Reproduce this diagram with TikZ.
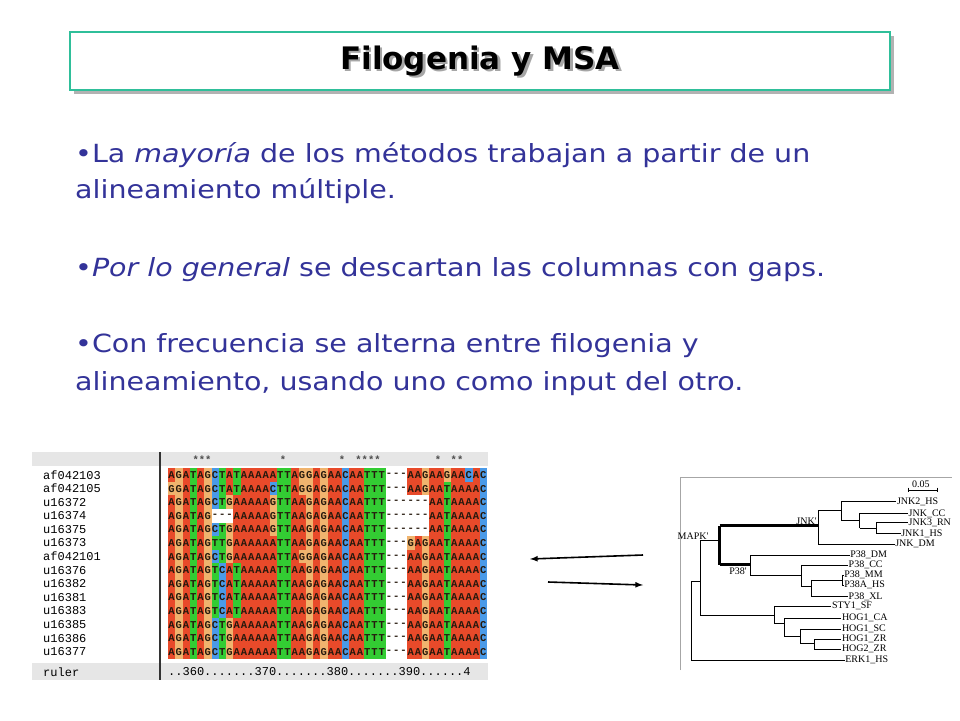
\documentclass[tikz,border=0pt]{standalone}
\usepackage{fontspec}
\setmainfont{DejaVu Sans}
\newfontfamily\bodyfont[FakeStretch=1.14]{DejaVu Sans}
\newfontfamily\alnfont{Liberation Mono}
\newfontfamily\treefont{Liberation Serif}
\definecolor{slideblue}{HTML}{333399}
\definecolor{titleteal}{HTML}{2FBF9A}
\definecolor{alnA}{HTML}{E84A2A}
\definecolor{alnG}{HTML}{F0B46E}
\definecolor{alnT}{HTML}{33CC33}
\definecolor{alnC}{HTML}{4A9AE8}
\definecolor{panelgray}{HTML}{E6E6E6}
\tikzset{
  bodytext/.style={anchor=west,text=slideblue,font=\bodyfont\fontsize{25}{25}\selectfont,inner sep=0pt},
  seqname/.style={anchor=west,font=\alnfont\fontsize{12}{12}\selectfont,inner sep=0pt},
  base/.style={font=\alnfont\bfseries\fontsize{10.5}{10.5}\selectfont,inner sep=0pt,text=black!80!brown},
  leaf/.style={anchor=west,font=\treefont\fontsize{10}{10}\selectfont,inner sep=0.5pt},
  branch/.style={line width=0.7pt},
  thick branch/.style={line width=3pt}
}
\makeatletter
\newcount\alncol
\def\alndash{-}
\newcommand\alnrow[3]{% name, y, sequence
  \node[seqname] (n#1) at (43,#2) {#1};
  \alncol=0
  \@tfor\alnch:=#3\do{%
    \ifx\alnch\alndash\def\alnfill{white}\else\edef\alnfill{aln\alnch}\fi
    \pgfmathsetmacro\alnx{168+7.25*\alncol}%
    \fill[\alnfill] (\alnx,#2-6.8) rectangle ++(7.25,13.6);
    \node[base] at (\alnx+3.6,#2) {\alnch};
    \advance\alncol by 1 }}
\makeatother
\begin{document}
\begin{tikzpicture}[x=1pt,y=-1pt]
  \useasboundingbox[fill=white] (0,0) rectangle (960,720);
  % title
  \fill[gray!60] (74,36) rectangle (894,94);
  \draw[titleteal,line width=2.5pt,fill=white] (70,32) rectangle (890,90);
  \node[font=\bfseries\fontsize{31}{31}\selectfont,text=gray!70] at (482.5,63.5) {Filogenia y MSA};
  \node[font=\bfseries\fontsize{31}{31}\selectfont] (title) at (480,61) {Filogenia y MSA};
  % bullets
  \node[bodytext] (b1) at (75,155) {•La \textit{mayoría} de los métodos trabajan a partir de un};
  \node[bodytext] (b1b) at (75,191) {alineamiento múltiple.};
  \node[bodytext] (b2) at (75,270) {•\textit{Por lo general} se descartan las columnas con gaps.};
  \node[bodytext] (b3) at (75,346) {•Con frecuencia se alterna entre filogenia y};
  \node[bodytext] (b3b) at (75,384) {alineamiento, usando uno como input del otro.};
  % alignment panel
  \fill[panelgray] (32,452) rectangle (488,466);
  \fill[panelgray] (32,663) rectangle (488,680);
  \foreach \sx/\st in {202/***,283/*,342/*,368/****,438/*,457/**}
    \node[base,text=black!70] at (\sx,460) {\st};
  \alnrow{af042103}{475}{AGATAGCTATAAAAATTAGGAGAACAATTT---AAGAAGAACAC}
  \alnrow{af042105}{488.6}{GGATAGCTATAAAACTTAGGAGAACAATTT---AAGAATAAAAC}
  \alnrow{u16372}{502.2}{AGATAGCTGAAAAAGTTAAGAGAACAATTT------AATAAAAC}
  \alnrow{u16374}{515.8}{AGATAG---AAAAAGTTAAGAGAACAATTT------AATAAAAC}
  \alnrow{u16375}{529.4}{AGATAGCTGAAAAAGTTAAGAGAACAATTT------AATAAAAC}
  \alnrow{u16373}{543}{AGATAGTTGAAAAAATTAAGAGAACAATTT---GAGAATAAAAC}
  \alnrow{af042101}{556.6}{AGATAGCTGAAAAAATTAGGAGAACAATTT---AAGAATAAAAC}
  \alnrow{u16376}{570.2}{AGATAGTCATAAAAATTAAGAGAACAATTT---AAGAATAAAAC}
  \alnrow{u16382}{583.8}{AGATAGTCATAAAAATTAAGAGAACAATTT---AAGAATAAAAC}
  \alnrow{u16381}{597.4}{AGATAGTCATAAAAATTAAGAGAACAATTT---AAGAATAAAAC}
  \alnrow{u16383}{611}{AGATAGTCATAAAAATTAAGAGAACAATTT---AAGAATAAAAC}
  \alnrow{u16385}{624.6}{AGATAGCTGAAAAAATTAAGAGAACAATTT---AAGAATAAAAC}
  \alnrow{u16386}{638.2}{AGATAGCTGAAAAAATTAAGAGAACAATTT---AAGAATAAAAC}
  \alnrow{u16377}{651.8}{AGATAGCTGAAAAAATTAAGAGAACAATTT---AAGAATAAAAC}
  \node[seqname] (ruler) at (43,672) {ruler};
  \node[seqname] (rulerscale) at (168,672) {..360.......370.......380.......390......4};
  \draw[line width=1.2pt,black!80] (160,452) -- (160,680);
  % arrows
  \coordinate (aR) at (643,555);
  \coordinate (aL) at (530,559);
  \coordinate (bL) at (548,582);
  \coordinate (bR) at (643,585);
  \draw[-latex,line width=1.6pt] (aR) -- (aL);
  \draw[-latex,line width=1.6pt] (bL) -- (bR);
  % tree panel
  \draw[gray!70] (680,670) -- (680,477) -- (952,477);
  \begin{scope}[shift={(678,475)},x=0.3333pt,y=-0.3333pt]
    \draw[branch] (690,45) -- (778,45) (690,38) -- (690,52) (778,38) -- (778,52);
    \node[leaf] at (700,28) {0.05};
    % JNK
    \draw[branch] (490,80) -- (655,80) (490,80) -- (490,137) (420,105) -- (490,105);
    \draw[branch] (545,115) -- (690,115) (545,115) -- (545,159) (490,137) -- (545,137);
    \draw[branch] (595,143) -- (690,143) (595,143) -- (595,175) -- (668,175) (545,159) -- (595,159);
    \draw[branch] (420,105) -- (420,207) -- (650,207);
    \node[leaf] at (655,80) {JNK2\_HS};
    \node[leaf] at (690,115) {JNK\_CC};
    \node[leaf] at (690,143) {JNK3\_RN};
    \node[leaf] at (668,175) {JNK1\_HS};
    \node[leaf] at (650,207) {JNK\_DM};
    % P38
    \draw[branch] (218,240) -- (515,240) (218,240) -- (218,300) -- (370,300);
    \draw[branch] (370,270) -- (510,270) (370,270) -- (370,335) -- (400,335);
    \draw[branch] (400,315) -- (493,315) (400,315) -- (400,365) -- (510,365);
    \draw[branch] (493,300) -- (497,300) (493,300) -- (493,330) -- (497,330);
    \node[leaf] at (515,240) {P38\_DM};
    \node[leaf] at (510,270) {P38\_CC};
    \node[leaf] at (497,300) {P38\_MM};
    \node[leaf] at (497,330) {P38A\_HS};
    \node[leaf] at (510,365) {P38\_XL};
    % HOG
    \draw[branch] (290,393) -- (460,393) (290,393) -- (290,445) -- (318,445);
    \draw[branch] (318,430) -- (490,430) (318,430) -- (318,485) -- (368,485);
    \draw[branch] (368,462) -- (490,462) (368,462) -- (368,505) -- (410,505);
    \draw[branch] (410,493) -- (490,493) (410,493) -- (410,522) -- (490,522);
    \node[leaf] at (460,393) {STY1\_SF};
    \node[leaf] at (490,430) {HOG1\_CA};
    \node[leaf] at (490,462) {HOG1\_SC};
    \node[leaf] at (490,493) {HOG1\_ZR};
    \node[leaf] at (490,522) {HOG2\_ZR};
    % root
    \draw[branch] (40,320) -- (40,555) -- (500,555) (40,320) -- (67,320);
    \draw[branch] (67,195) -- (67,420) -- (290,420) (67,195) -- (125,195);
    \draw[thick branch] (125,152) -- (125,270) (125,152) -- (420,152) (125,270) -- (218,270);
    \node[leaf] at (500,555) {ERK1\_HS};
    \node[leaf,anchor=south] at (45,195) {MAPK'};
    \node[leaf,anchor=south east] at (418,150) {JNK'};
    \node[leaf,anchor=north] at (180,275) {P38'};
  \end{scope}
\end{tikzpicture}
\end{document}
